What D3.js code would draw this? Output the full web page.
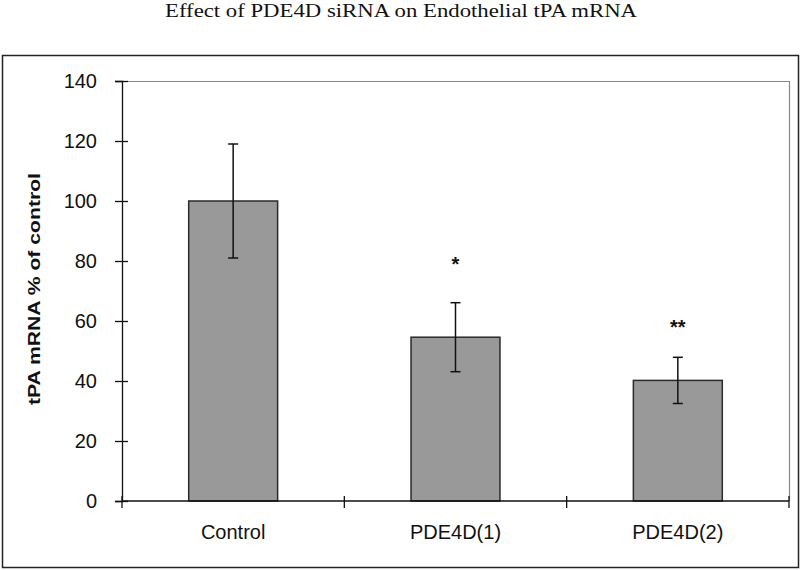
<!DOCTYPE html>
<html>
<head>
<meta charset="utf-8">
<script src="https://cdn.jsdelivr.net/npm/d3@7"></script>
<style>
  body { margin: 0; background: #fff; }
  svg { display: block; }
</style>
</head>
<body>
<svg id="chart" width="800" height="570"></svg>
<script>
const categories = ["Control", "PDE4D(1)", "PDE4D(2)"];
const means = [100, 54.6, 40.2];
const errors = [19, 11.5, 7.7];
const sigLabels = ["", "*", "**"];
const sigLevels = [null, 80.5, 59.5];
const yTicks = [0, 20, 40, 60, 80, 100, 120, 140];
const titleText = "Effect of PDE4D siRNA on Endothelial tPA mRNA";
const yLabel = "tPA mRNA % of control";

const svg = d3.select("#chart");
const W = 800, H = 570;
const plot = { left: 122, right: 789, top: 81, bottom: 501 };

svg.append("rect").attr("width", W).attr("height", H).attr("fill", "#fff");

// outer frame
svg.append("rect")
  .attr("x", 2.5).attr("y", 55.5)
  .attr("width", 796).attr("height", 512)
  .attr("fill", "none").attr("stroke", "#222").attr("stroke-width", 1.5);

// title
svg.append("text")
  .attr("x", 165).attr("y", 17)
  .attr("textLength", 472)
  .attr("lengthAdjust", "spacingAndGlyphs")
  .attr("font-family", "'Liberation Serif', 'Times New Roman', serif")
  .attr("font-size", 19.5)
  .attr("fill", "#111")
  .text(titleText);

const x = d3.scaleBand()
  .domain(categories)
  .range([plot.left, plot.right])
  .paddingInner(0.6)
  .paddingOuter(0.3);

const y = d3.scaleLinear()
  .domain([0, 140])
  .range([plot.bottom, plot.top]);

// plot area border (top and right)
svg.append("path")
  .attr("d", `M${plot.left},${plot.top + 0.5}H${plot.right + 0.5}V${plot.bottom}`)
  .attr("fill", "none").attr("stroke", "#8a8a8a").attr("stroke-width", 1.2);

// bars
svg.selectAll("rect.bar")
  .data(categories)
  .join("rect")
  .attr("class", "bar")
  .attr("x", d => x(d))
  .attr("width", x.bandwidth())
  .attr("y", (d, i) => y(means[i]))
  .attr("height", (d, i) => y(0) - y(means[i]))
  .attr("fill", "#999999")
  .attr("stroke", "#2a2a2a")
  .attr("stroke-width", 1.5);

// error bars
const eg = svg.append("g").attr("stroke", "#111").attr("stroke-width", 1.5).attr("fill", "none");
categories.forEach((c, i) => {
  const cx = x(c) + x.bandwidth() / 2;
  const yHi = y(means[i] + errors[i]);
  const yLo = y(means[i] - errors[i]);
  eg.append("line").attr("x1", cx).attr("x2", cx).attr("y1", yHi).attr("y2", yLo);
  eg.append("line").attr("x1", cx - 5).attr("x2", cx + 5).attr("y1", yHi).attr("y2", yHi);
  eg.append("line").attr("x1", cx - 5).attr("x2", cx + 5).attr("y1", yLo).attr("y2", yLo);
});

// significance stars
svg.selectAll("text.sig")
  .data(categories.filter((c, i) => sigLabels[i]))
  .join("text")
  .attr("class", "sig")
  .attr("x", d => x(d) + x.bandwidth() / 2)
  .attr("y", d => y(sigLevels[categories.indexOf(d)]) + 11)
  .attr("text-anchor", "middle")
  .attr("font-family", "'Liberation Sans', Arial, sans-serif")
  .attr("font-size", 20)
  .attr("font-weight", "bold")
  .attr("fill", "#111")
  .text(d => sigLabels[categories.indexOf(d)]);

// y axis
const yAxis = d3.axisLeft(y).tickValues(yTicks).tickSize(7).tickPadding(8).tickFormat(d3.format("d"));
const gy = svg.append("g").attr("transform", `translate(${plot.left},0)`).call(yAxis);
gy.select(".domain").attr("stroke", "#111").attr("stroke-width", 1.3);
gy.selectAll(".tick line").attr("stroke", "#111").attr("stroke-width", 1.3).attr("x2", -7).attr("x1", 6);
gy.selectAll(".tick text")
  .attr("font-family", "'Liberation Sans', Arial, sans-serif")
  .attr("font-size", 20).attr("fill", "#111").attr("x", -25);

// x axis
const gx = svg.append("g").attr("transform", `translate(0,${plot.bottom})`);
gx.append("line")
  .attr("x1", plot.left).attr("x2", plot.right)
  .attr("stroke", "#111").attr("stroke-width", 1.3);
const boundaries = [plot.left].concat(categories.map(c => x(c) + x.bandwidth() + x.step() * x.paddingInner() / 2));
boundaries[boundaries.length - 1] = plot.right;
gx.selectAll("line.xt")
  .data(boundaries)
  .join("line")
  .attr("class", "xt")
  .attr("x1", d => d).attr("x2", d => d)
  .attr("y1", -5).attr("y2", 7)
  .attr("stroke", "#111").attr("stroke-width", 1.3);
gx.selectAll("text.xl")
  .data(categories)
  .join("text")
  .attr("class", "xl")
  .attr("x", d => x(d) + x.bandwidth() / 2)
  .attr("y", 38)
  .attr("text-anchor", "middle")
  .attr("font-family", "'Liberation Sans', Arial, sans-serif")
  .attr("font-size", 20).attr("fill", "#111")
  .text(d => d);

// y label
svg.append("text")
  .attr("transform", `translate(40,289) rotate(-90)`)
  .attr("x", -116)
  .attr("textLength", 232)
  .attr("lengthAdjust", "spacingAndGlyphs")
  .attr("font-family", "'Liberation Sans', Arial, sans-serif")
  .attr("font-size", 16.5).attr("font-weight", "bold").attr("fill", "#111")
  .text(yLabel);
</script>
</body>
</html>
